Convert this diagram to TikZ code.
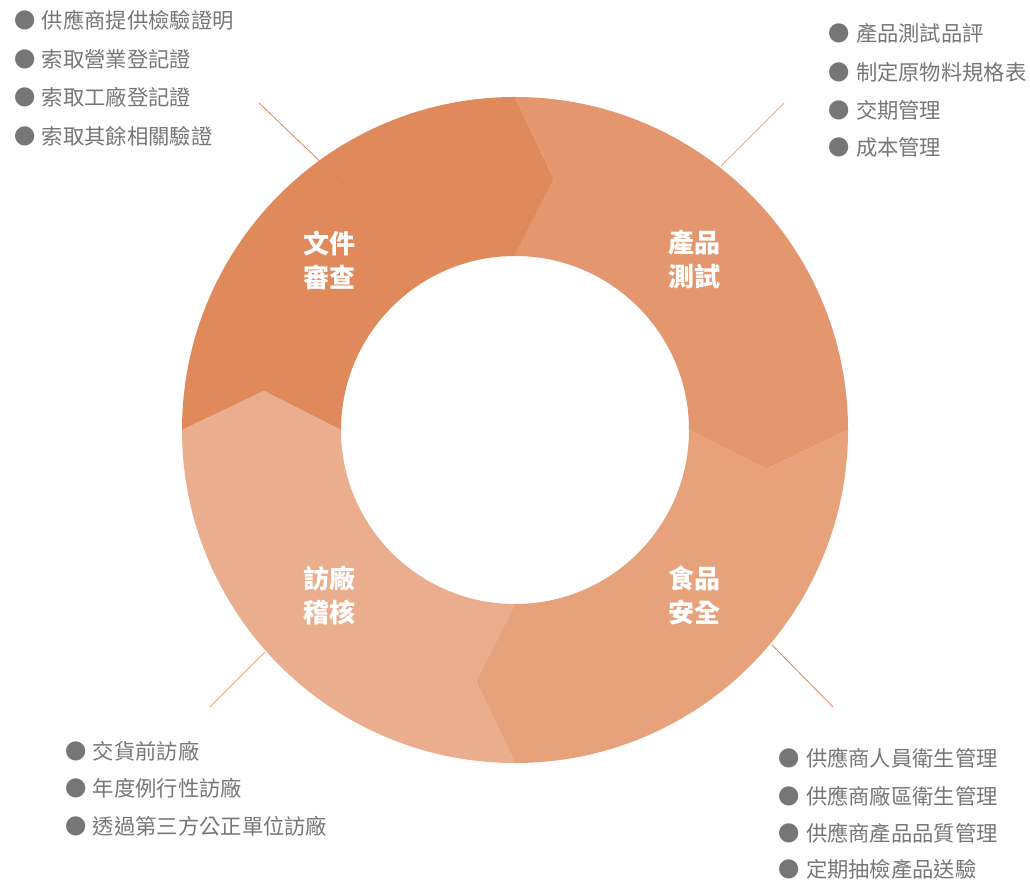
\documentclass[tikz,border=0pt]{standalone}
\usepackage{fontspec}
\setmainfont{Noto Sans CJK TC}
\usepackage{xcolor}
\usepackage{tikz}
\definecolor{docColor}{HTML}{E08A5C}
\definecolor{testColor}{HTML}{E4976E}
\definecolor{safeColor}{HTML}{E7A17B}
\definecolor{visitColor}{HTML}{EAAD8D}
\definecolor{listGray}{HTML}{767676}
\definecolor{leadDark}{HTML}{D9875A}
\definecolor{leadLight}{HTML}{E6AC84}
\newcommand{\listdot}{●\hspace{6.5pt}}

\begin{document}
\begin{tikzpicture}[x=1pt,y=1pt]
		\tikzset{listtext/.style={anchor=west,inner sep=0pt,text=listGray,font=\fontsize{21.3}{21.3}\selectfont}};
		\tikzset{ringlabel/.style={align=center,inner sep=0pt,text=white,font=\fontsize{26}{34}\selectfont\bfseries}};
		\tikzset{leader/.style={line width=0.8pt}};
		\useasboundingbox (0,0) rectangle (1030,880);
		
		\begin{scope}[shift={(515,450)}]
		\coordinate (pTop) at (39,251);
		\coordinate (pRight) at (251,-39);
		\coordinate (pBottom) at (-39,-251);
		\coordinate (pLeft) at (-251,39);
		\fill[docColor] (180:333) arc[start angle=180,end angle=90,radius=333] -- (pTop) -- (90:174) arc[start angle=90,end angle=180,radius=174] -- (pLeft) -- cycle;
		\fill[testColor] (90:333) arc[start angle=90,end angle=0,radius=333] -- (pRight) -- (0:174) arc[start angle=0,end angle=90,radius=174] -- (pTop) -- cycle;
		\fill[safeColor] (0:333) arc[start angle=0,end angle=-90,radius=333] -- (pBottom) -- (-90:174) arc[start angle=-90,end angle=0,radius=174] -- (pRight) -- cycle;
		\fill[visitColor] (-90:333) arc[start angle=-90,end angle=-180,radius=333] -- (pLeft) -- (180:174) arc[start angle=180,end angle=270,radius=174] -- (pBottom) -- cycle;
		\end{scope}
		
		\node[ringlabel] (docLabel) at (329,620) {文件\\審查};
		\node[ringlabel] (testLabel) at (694,620) {產品\\測試};
		\node[ringlabel] (visitLabel) at (329,285) {訪廠\\稽核};
		\node[ringlabel] (safeLabel) at (694,285) {食品\\安全};
		
		\coordinate (docOut) at (259,777);
		\coordinate (docIn) at (350,690);
		\coordinate (testOut) at (784,777);
		\coordinate (testIn) at (721,714);
		\coordinate (safeOut) at (833,173);
		\coordinate (safeIn) at (772,235);
		\coordinate (visitOut) at (210,173);
		\coordinate (visitIn) at (265,228);
		\draw[leader,leadDark] (docOut) -- (docIn);
		\draw[leader,leadLight] (testOut) -- (testIn);
		\draw[leader,leadDark] (safeIn) -- (safeOut);
		\draw[leader,leadLight] (visitOut) -- (visitIn);
		
		\node[listtext] (doc1) at (14,860) {\listdot 供應商提供檢驗證明};
		\node[listtext] (doc2) at (14,821) {\listdot 索取營業登記證};
		\node[listtext] (doc3) at (14,783) {\listdot 索取工廠登記證};
		\node[listtext] (doc4) at (14,744) {\listdot 索取其餘相關驗證};
		
		\node[listtext] (test1) at (828,847) {\listdot 產品測試品評};
		\node[listtext] (test2) at (828,808) {\listdot 制定原物料規格表};
		\node[listtext] (test3) at (828,770) {\listdot 交期管理};
		\node[listtext] (test4) at (828,733) {\listdot 成本管理};
		
		\node[listtext] (visit1) at (65,129) {\listdot 交貨前訪廠};
		\node[listtext] (visit2) at (65,92) {\listdot 年度例行性訪廠};
		\node[listtext] (visit3) at (65,54) {\listdot 透過第三方公正單位訪廠};
		
		\node[listtext] (safe1) at (778,122) {\listdot 供應商人員衛生管理};
		\node[listtext] (safe2) at (778,84) {\listdot 供應商廠區衛生管理};
		\node[listtext] (safe3) at (778,47) {\listdot 供應商產品品質管理};
		\node[listtext] (safe4) at (778,11) {\listdot 定期抽檢產品送驗};
		
	\end{tikzpicture}
\end{document}
